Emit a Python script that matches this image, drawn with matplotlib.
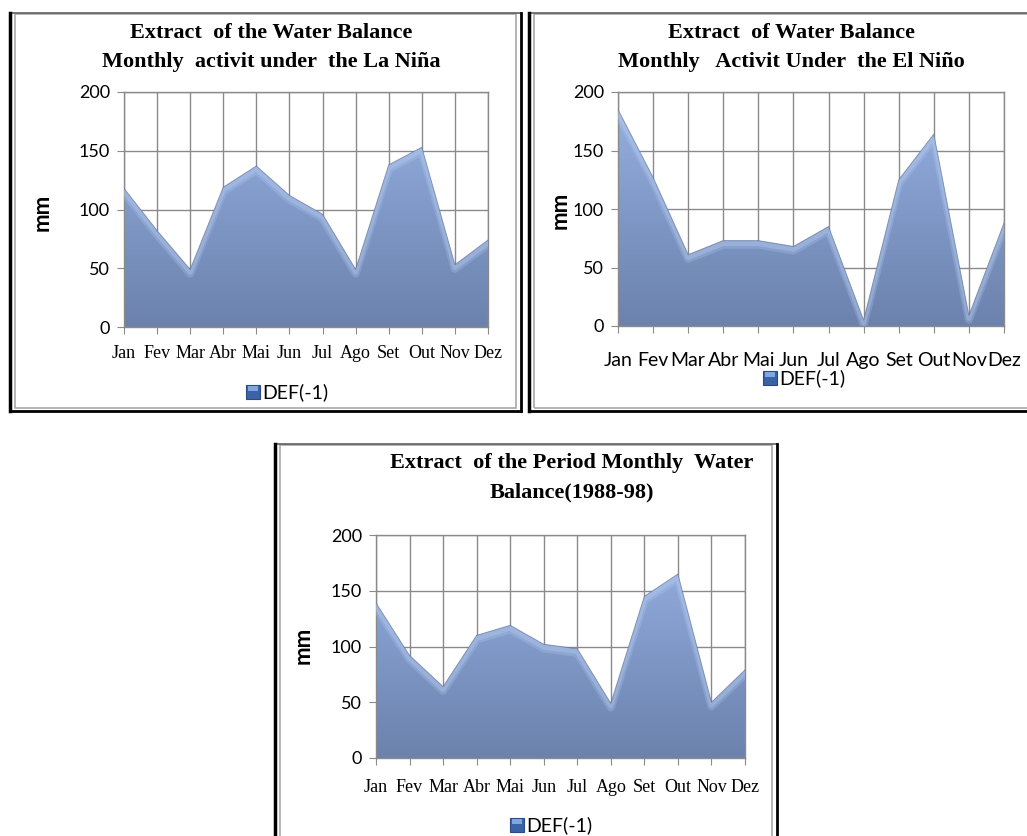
import numpy as np
import matplotlib.pyplot as plt
from matplotlib.patches import Polygon, Rectangle
from matplotlib.lines import Line2D
from matplotlib.colors import LinearSegmentedColormap
import matplotlib.transforms as mtransforms


W, H = 1027, 836

MONTHS = ['Jan', 'Fev', 'Mar', 'Abr', 'Mai', 'Jun', 'Jul', 'Ago', 'Set', 'Out', 'Nov', 'Dez']
LA_NINA = [118, 82, 49, 119, 137, 112, 96, 49, 138, 153, 53, 74]
EL_NINO = [185, 127, 61, 73, 73, 68, 85, 5, 125, 164, 9, 88]
PERIOD = [139, 92, 64, 110, 119, 102, 98, 49, 145, 165, 50, 79]
Y_TICKS = [0, 50, 100, 150, 200]
SERIES_NAME = 'DEF(-1)'

GRID = '#8a8a8a'
FILL_CMAP = LinearSegmentedColormap.from_list('area', ['#6c82ad', '#8099c8', '#98b2e2'])

SERIF = 'Liberation Serif'
SANS = 'Lato'


def fx(px):
    return px / W


def fy(py):
    return 1 - py / H


def make_axes(left, right, top, bottom):
    return fig.add_axes([fx(left), fy(bottom), fx(right - left), (bottom - top) / H])


def area(ax, values):
    x = np.arange(len(values))
    y = np.array(values, dtype=float)
    verts = [(0, 0)] + list(zip(x, y)) + [(x[-1], 0)]
    poly = Polygon(verts, closed=True, facecolor='none', edgecolor='none')
    ax.add_patch(poly)

    # vertical gradient clipped to the area
    grad = np.linspace(0, 1, 256).reshape(-1, 1)
    im = ax.imshow(grad, cmap=FILL_CMAP, origin='lower', aspect='auto',
                   extent=[0, len(values) - 1, 0, 200], zorder=2)
    im.set_clip_path(poly)

    # soft bevel along the top edge
    for dy, lw, a in [(-4, 6, 0.25), (-3, 3.5, 0.35)]:
        off = mtransforms.offset_copy(ax.transData, fig=fig, x=0, y=dy, units='dots')
        hl, = ax.plot(x, y, color='#b9cff3', lw=lw, alpha=a, transform=off,
                      solid_joinstyle='round', zorder=3)
        hl.set_clip_path(poly)
    ax.plot(x, y, color='#5d7096', lw=0.7, alpha=0.6, zorder=4)


def style_axes(ax, xfont, xsize, xpad):
    ax.set_xlim(0, len(MONTHS) - 1)
    ax.set_ylim(0, 200)
    ax.set_xticks(range(len(MONTHS)))
    ax.set_xticklabels(MONTHS, fontfamily=xfont, fontsize=xsize)
    ax.set_yticks(Y_TICKS)
    ax.set_yticklabels([str(t) for t in Y_TICKS], fontfamily=SANS, fontsize=13)
    ax.grid(True, color=GRID, lw=1)
    ax.set_axisbelow(True)
    for s in ax.spines.values():
        s.set_color(GRID)
        s.set_linewidth(1)
    ax.tick_params(axis='x', direction='out', length=5, color=GRID, pad=xpad)
    ax.tick_params(axis='y', direction='out', length=5, color=GRID, pad=5)


def frame(x0, y0, x1, y1):
    # grey inner box with a black outer edge on left, right and bottom
    fig.add_artist(Rectangle((fx(x0 + 5), fy(y1 - 3)), fx(x1 - x0 - 10), (y1 - y0 - 4) / H,
                             transform=fig.transFigure, fill=False, ec='#a8a8a8', lw=1.2))
    fig.add_artist(Line2D([fx(x0), fx(x1)], [fy(y0), fy(y0)], transform=fig.transFigure,
                          color='#606060', lw=1.2))
    fig.add_artist(Line2D([fx(x0), fx(x0)], [fy(y0), fy(y1)], transform=fig.transFigure,
                          color='black', lw=2.5))
    fig.add_artist(Line2D([fx(x1), fx(x1)], [fy(y0), fy(y1)], transform=fig.transFigure,
                          color='black', lw=2))
    fig.add_artist(Line2D([fx(x0), fx(x1)], [fy(y1), fy(y1)], transform=fig.transFigure,
                          color='black', lw=2))


def legend(cx, cy):
    fig.add_artist(Rectangle((fx(cx - 46), fy(cy + 7)), 14 / W, 14 / H,
                             transform=fig.transFigure, fc='#3a62a6', ec='#2a4a80', lw=0.8))
    fig.add_artist(Rectangle((fx(cx - 44), fy(cy - 1)), 10 / W, 5 / H,
                             transform=fig.transFigure, fc='#7fa6e0', ec='none'))
    fig.text(fx(cx - 30), fy(cy), SERIES_NAME, fontfamily=SANS, fontsize=14,
             va='center', ha='left')


def title(cx, y1, y2, line1, line2):
    fig.text(fx(cx), fy(y1), line1, fontfamily=SERIF, fontweight='bold', fontsize=16,
             ha='center', va='center')
    fig.text(fx(cx), fy(y2), line2, fontfamily=SERIF, fontweight='bold', fontsize=16,
             ha='center', va='center')


def ylabel(x, y):
    fig.text(fx(x), fy(y), 'mm', fontfamily=SANS, fontweight='bold', fontsize=16,
             rotation=90, ha='center', va='center')


fig = plt.figure(figsize=(W / 100, H / 100), dpi=100)

# La Niña
frame(10, 12.5, 520.5, 411)
ax1 = make_axes(124, 488, 92, 327)
area(ax1, LA_NINA)
style_axes(ax1, SERIF, 13, 8)
title(271, 33, 62, 'Extract  of the Water Balance', 'Monthly  activit under  the La Niña')
ylabel(42, 212)
legend(292, 392)

# El Niño
frame(529, 12.5, 1040, 411)
ax2 = make_axes(618, 1004, 92, 326)
area(ax2, EL_NINO)
style_axes(ax2, SANS, 14, 14)
title(791, 33, 62, 'Extract  of Water Balance', 'Monthly   Activit Under  the El Niño')
ylabel(560, 210)
legend(809, 378)

# whole period
frame(275, 444, 776.5, 850)
ax3 = make_axes(376, 745, 535, 758)
area(ax3, PERIOD)
style_axes(ax3, SERIF, 13, 10)
title(572, 463, 492, 'Extract  of the Period Monthly  Water', 'Balance(1988-98)')
ylabel(303, 645)
legend(556, 825)

fig.savefig('out.png', dpi=100)
